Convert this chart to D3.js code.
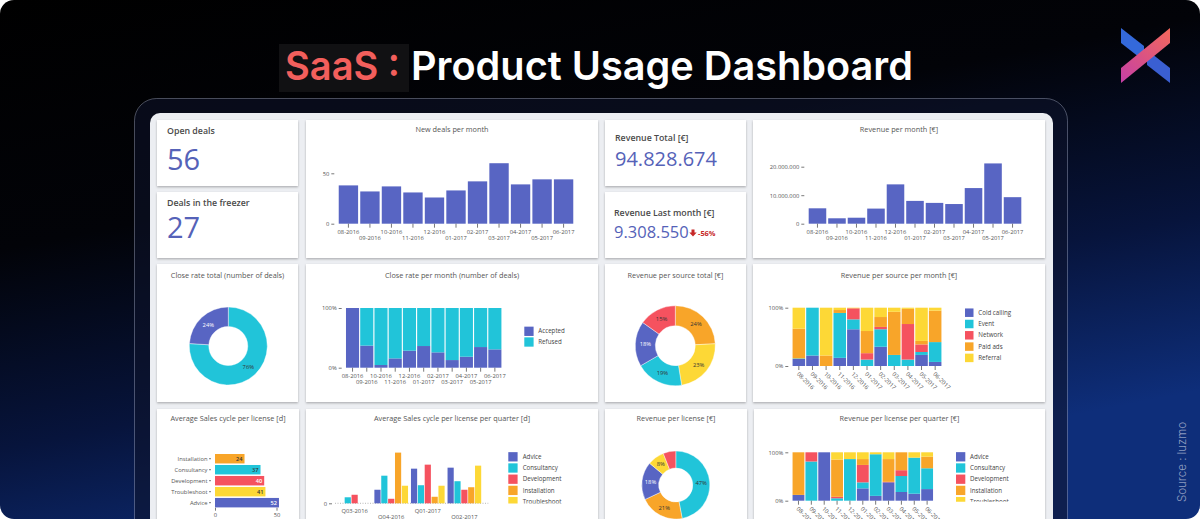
<!DOCTYPE html>
<html><head><meta charset="utf-8">
<script src="https://cdn.jsdelivr.net/npm/d3@7"></script>
<style>
html,body{margin:0;padding:0;background:#fff;overflow:hidden}
svg{display:block}
</style></head>
<body>
<svg id="chart" width="1200" height="519"></svg>
<script>
// ---------------- DATA ----------------
const months = ["08-2016","09-2016","10-2016","11-2016","12-2016","01-2017","02-2017","03-2017","04-2017","05-2017","06-2017"];
const newDeals = [38,32,37,31,26,33,42,60,39,44,44];
const revenuePerMonth = [5400000,1900000,2100000,5300000,13800000,8000000,7300000,6900000,12500000,21150000,9308550];
const kpiLabels = ["Open deals","Deals in the freezer","Revenue Total [€]","Revenue Last month [€]"];
const kpiValues = ["56","27","94.828.674","9.308.550"];
const kpiDelta = "-56%";

const closeStatus = ["Refused","Accepted"];
const closeTotalPct = [76,24];
const closeLegend = ["Accepted","Refused"];
const acceptedShare = [1,0.37,0.045,0.156,0.285,0.363,0.257,0.128,0.184,0.346,0.307];

const sources = ["Cold calling","Event","Network","Paid ads","Referral"];
const sourcePieOrder = ["Paid ads","Referral","Event","Cold calling","Network"];
const sourcePiePct = [24,23,19,18,15];
const srcColdCalling = [0.12,0.18,0,0.14,0.63,0,0.33,0,0,0.19,0.07];
const srcEvent       = [0.01,0.82,0,0.77,0.17,0.11,0.30,0.19,0.11,0.05,0.34];
const srcNetwork     = [0,0,0,0,0.19,0.11,0.04,0,0.61,0.13,0];
const srcPaidAds     = [0.51,0,0.18,0.05,0,0.38,0.17,0.74,0.26,0.06,0.54];
const srcReferral    = [0.36,0,0.82,0.04,0.01,0.40,0.16,0.07,0.02,0.57,0.05];

const licenses = ["Advice","Consultancy","Development","Installation","Troubleshoot"];
const cycleCats = ["Installation","Consultancy","Development","Troubleshoot","Advice"];
const cycleDays = [24,37,40,41,52];

const quarters = ["Q03-2016","Q04-2016","Q01-2017","Q02-2017"];
const qAdvice       = [0,27,69,71];
const qConsultancy  = [12,55,36,44];
const qDevelopment  = [17,9,77,27];
const qInstallation = [0,101,13,32];
const qTroubleshoot = [0,35,35,75];

const licPieOrder = ["Consultancy","Installation","Advice","Troubleshoot","Development"];
const licPiePct = [47,21,18,8,6];
const licAdvice       = [0.12,0,1,0,0,0.255,0.10,0.38,0.18,0.145,0.24];
const licConsultancy  = [0,0.81,0,0.05,0.86,0.124,0.86,0,0.33,0.745,0.43];
const licDevelopment  = [0,0.19,0,0.03,0,0.36,0,0.01,0.12,0,0];
const licInstallation = [0.88,0,0,0.77,0,0.121,0,0.47,0.37,0,0.24];
const licTroubleshoot = [0,0,0,0.15,0.14,0.14,0.04,0.14,0,0.11,0.09];

// ---------------- SETUP ----------------
const svg = d3.select("#chart");
const defs = svg.append("defs");
const FONT = "'Open Sans', sans-serif";
const COL = {blue:"#5865c3", cyan:"#21c4d9", red:"#f5525f", orange:"#f8a529", yellow:"#fdd836"};
const palette = [COL.blue, COL.cyan, COL.red, COL.orange, COL.yellow];
const srcColor = d3.scaleOrdinal(sources, palette);
const licColor = d3.scaleOrdinal(licenses, palette);
const closeColor = d3.scaleOrdinal(["Accepted","Refused"], [COL.blue, COL.cyan]);
const dotFmt = d3.formatLocale({decimal:",", thousands:".", grouping:[3], currency:["","€"]}).format(",");
const pctFmt = d3.format(".0%");

// background
const bgG = defs.append("linearGradient").attr("id","bgGrad").attr("x1",0).attr("y1",0).attr("x2",0.45).attr("y2",1);
[[0,"#000000"],[0.4,"#020308"],[0.72,"#07143c"],[1,"#0e2e7a"]].forEach(([o,c])=>bgG.append("stop").attr("offset",o).attr("stop-color",c));
svg.append("rect").attr("width",1200).attr("height",519).attr("rx",14).attr("fill","url(#bgGrad)");

const sh = defs.append("filter").attr("id","sh").attr("x","-5%").attr("y","-5%").attr("width","110%").attr("height","120%");
sh.append("feDropShadow").attr("dx",0).attr("dy",1.2).attr("stdDeviation",0.9).attr("flood-color","#000").attr("flood-opacity",0.28);

// frame + dashboard area
svg.append("rect").attr("x",134.5).attr("y",98.5).attr("width",933).attr("height",480).attr("rx",22)
  .attr("fill","rgba(14,20,44,0.55)").attr("stroke","rgba(200,210,235,0.35)").attr("stroke-width",1);
svg.append("rect").attr("x",150).attr("y",113).attr("width",903).attr("height",440).attr("rx",10).attr("fill","#eceef2");

// title
svg.append("rect").attr("x",279).attr("y",44).attr("width",130).attr("height",48).attr("fill","#111113");
svg.append("text").attr("x",285).attr("y",80).attr("font-family","Inter").attr("font-weight",600).attr("font-size",40)
  .attr("fill","#f25f5c").attr("textLength",115).attr("lengthAdjust","spacingAndGlyphs").text("SaaS :");
svg.append("text").attr("x",411).attr("y",80).attr("font-family","Inter").attr("font-weight",600).attr("font-size",40)
  .attr("fill","#ffffff").attr("textLength",502).attr("lengthAdjust","spacingAndGlyphs").text("Product Usage Dashboard");

// logo
const lp = defs.append("linearGradient").attr("id","logoPink").attr("gradientUnits","userSpaceOnUse")
  .attr("x1",1170).attr("y1",28).attr("x2",1121).attr("y2",83);
lp.append("stop").attr("offset",0).attr("stop-color","#f4695b");
lp.append("stop").attr("offset",1).attr("stop-color","#c43fa6");
svg.append("polygon").attr("points","1121,28 1144,46 1144,61 1121,43").attr("fill","#3469da");
svg.append("polygon").attr("points","1147,50 1170,68 1170,83 1147,65").attr("fill","#3a5fd2");
svg.append("polygon").attr("points","1170,28 1170,43 1121,83 1121,68").attr("fill","url(#logoPink)");

svg.append("text").attr("transform","translate(1186,502) rotate(-90)").attr("font-family","Inter").attr("font-weight",300)
  .attr("font-size",11.5).attr("fill","rgba(255,255,255,0.55)").text("Source : luzmo");

// ---------------- HELPERS ----------------
function card(x,y,w,h){
  const g = svg.append("g").attr("transform",`translate(${x},${y})`).attr("font-family",FONT);
  g.append("rect").attr("width",w).attr("height",h).attr("fill","#fff").attr("filter","url(#sh)");
  return g;
}
function title(g,w,t,y){
  g.append("text").attr("x",w/2).attr("y",y).attr("text-anchor","middle").attr("font-size",7.3).attr("fill","#555").text(t);
}
function styleAxis(ax){
  ax.select(".domain").remove();
  ax.attr("font-family",null).attr("font-size",null);
  ax.selectAll("line").attr("stroke","#555").attr("stroke-width",0.8);
  ax.selectAll("text").attr("font-size",5.8).attr("fill","#555").attr("font-family",FONT);
  return ax;
}
function yAxis(g,y,vals,fmt,xPos){
  return styleAxis(g.append("g").attr("transform",`translate(${xPos},0)`)
    .call(d3.axisLeft(y).tickValues(vals).tickFormat(fmt).tickSize(3).tickPadding(2)));
}
function monthAxisAlt(g,x,y0){
  const ax = styleAxis(g.append("g").attr("transform",`translate(0,${y0})`).call(d3.axisBottom(x).tickSize(4)));
  ax.selectAll("text").attr("y",(d,i)=>i%2?14.5:8).attr("dy","0.35em");
  return ax;
}
function monthAxisRot(g,x,y0){
  const ax = styleAxis(g.append("g").attr("transform",`translate(0,${y0})`).call(d3.axisBottom(x).tickSize(4)));
  ax.selectAll("text").attr("x",0).attr("y",0).attr("dy","0.35em").attr("text-anchor","start")
    .attr("transform","translate(-1,7) rotate(45)");
  return ax;
}
let clipId = 0;
function legend(g,names,color,sx,tx,cy0,step,size,clipH){
  const lg = g.append("g");
  if(clipH){
    const id = "lc"+(clipId++);
    defs.append("clipPath").attr("id",id).append("rect").attr("x",0).attr("y",0).attr("width",400).attr("height",clipH);
    lg.attr("clip-path",`url(#${id})`);
  }
  const it = lg.selectAll("g").data(names).join("g").attr("transform",(d,i)=>`translate(0,${cy0+i*step})`);
  it.append("rect").attr("x",sx).attr("y",-size/2).attr("width",size).attr("height",size).attr("fill",d=>color(d));
  it.append("text").attr("x",tx).attr("dy","0.35em").attr("font-size",6.2).attr("fill","#444").text(d=>d);
}
function donut(g,cx,cy,r0,r1,names,vals,color){
  const arcs = d3.pie().sort(null).value(d=>d)(vals);
  const arc = d3.arc().innerRadius(r0).outerRadius(r1);
  const lab = d3.arc().innerRadius((r0+r1)/2).outerRadius((r0+r1)/2);
  const gg = g.append("g").attr("transform",`translate(${cx},${cy})`);
  gg.selectAll("path").data(arcs).join("path").attr("d",arc).attr("fill",(d,i)=>color(names[i]))
    .attr("stroke","#fff").attr("stroke-width",0.4);
  gg.selectAll("text").data(arcs.filter(d=>d.data>=7)).join("text")
    .attr("transform",d=>`translate(${lab.centroid(d)})`).attr("text-anchor","middle").attr("dy","0.35em")
    .attr("font-size",5.8).attr("fill",d=>color(names[d.index])===COL.blue?"#fff":"#333").text(d=>d.data+"%");
}
function stackedPct(g,x,y,keys,seriesArrs,color){
  const rows = months.map((m,i)=>{const o={m}; keys.forEach((k,j)=>o[k]=seriesArrs[j][i]); return o;});
  const st = d3.stack().keys(keys).offset(d3.stackOffsetExpand)(rows);
  g.append("g").selectAll("g").data(st).join("g").attr("fill",d=>color(d.key))
    .selectAll("rect").data(d=>d).join("rect")
    .attr("x",d=>x(d.data.m)).attr("width",x.bandwidth())
    .attr("y",d=>y(d[1])).attr("height",d=>Math.max(0,y(d[0])-y(d[1])));
}

// ---------------- ROW 1 ----------------
function kpiCard(x,y,label,value,lx,ly,vy,vs){
  const g = card(x,y,141,66);
  g.append("text").attr("x",lx).attr("y",ly).attr("font-size",8.8).attr("font-weight",600).attr("fill","#4a4a4a").text(label);
  g.append("text").attr("x",lx).attr("y",vy).attr("font-size",vs).attr("fill","#5562b8").text(value);
  return g;
}
kpiCard(157,120,kpiLabels[0],kpiValues[0],10,14,50,29);
kpiCard(157,192,kpiLabels[1],kpiValues[1],10,13.7,46.3,29);
kpiCard(605,120,kpiLabels[2],kpiValues[2],10,21,46,20);
{
  const g = kpiCard(605,192,kpiLabels[3],kpiValues[3],9,24,46.3,16.5);
  g.append("path").attr("d","M86.5,37.5h3v3h2.2l-3.7,4l-3.7,-4h2.2z").attr("fill","#c62828");
  g.append("text").attr("x",93).attr("y",44).attr("font-size",7.4).attr("font-weight",700).attr("fill","#c62828").text(kpiDelta);
}

// New deals per month
{
  const g = card(306,120,292,138);
  title(g,292,"New deals per month",12);
  const x = d3.scaleBand().domain(months).range([32.3,267.7]).paddingInner(0.1).paddingOuter(0.02);
  const y = d3.scaleLinear().domain([0,50]).range([103.7,53.3]);
  g.selectAll("rect.bar").data(newDeals).join("rect").attr("class","bar")
    .attr("x",(d,i)=>x(months[i])).attr("width",x.bandwidth()).attr("y",d=>y(d)).attr("height",d=>y(0)-y(d)).attr("fill",COL.blue);
  yAxis(g,y,[0,50],d=>d,28.3);
  monthAxisAlt(g,x,103.7);
}
// Revenue per month
{
  const g = card(753,120,292,138);
  title(g,292,"Revenue per month [€]",12);
  const x = d3.scaleBand().domain(months).range([55.3,268.7]).paddingInner(0.1).paddingOuter(0.02);
  const y = d3.scaleLinear().domain([0,20000000]).range([103.7,46.7]);
  g.selectAll("rect.bar").data(revenuePerMonth).join("rect").attr("class","bar")
    .attr("x",(d,i)=>x(months[i])).attr("width",x.bandwidth()).attr("y",d=>y(d)).attr("height",d=>y(0)-y(d)).attr("fill",COL.blue);
  yAxis(g,y,[0,10000000,20000000],dotFmt,51.3);
  monthAxisAlt(g,x,103.7);
}

// ---------------- ROW 2 ----------------
{
  const g = card(157,264,141,138);
  title(g,141,"Close rate total (number of deals)",13.7);
  donut(g,71.3,82,19.5,39,closeStatus,closeTotalPct,closeColor);
}
{
  const g = card(306,264,292,138);
  title(g,292,"Close rate per month (number of deals)",13.7);
  const x = d3.scaleBand().domain(months).range([39.7,195.7]).paddingInner(0.08).paddingOuter(0.02);
  const y = d3.scaleLinear().domain([0,1]).range([103.7,44]);
  stackedPct(g,x,y,["Accepted","Refused"],[acceptedShare,acceptedShare.map(v=>1-v)],closeColor);
  yAxis(g,y,[0,1],pctFmt,35.7);
  monthAxisAlt(g,x,103.7);
  legend(g,closeLegend,closeColor,218.3,232.3,67.3,10.7,9.3);
}
{
  const g = card(605,264,141,138);
  title(g,141,"Revenue per source total [€]",13.7);
  donut(g,70.3,81.7,20,40,sourcePieOrder,sourcePiePct,srcColor);
}
{
  const g = card(753,264,292,138);
  title(g,292,"Revenue per source per month [€]",13.7);
  const x = d3.scaleBand().domain(months).range([39.3,188.7]).paddingInner(0.08).paddingOuter(0.02);
  const y = d3.scaleLinear().domain([0,1]).range([102,43.7]);
  stackedPct(g,x,y,sources,[srcColdCalling,srcEvent,srcNetwork,srcPaidAds,srcReferral],srcColor);
  yAxis(g,y,[0,1],pctFmt,35.3);
  monthAxisRot(g,x,102);
  legend(g,sources,srcColor,212,225.3,48.7,11.3,8.5);
}

// ---------------- ROW 3 ----------------
{
  const g = card(157,409,142,138);
  title(g,142,"Average Sales cycle per license [d]",12.3);
  const y = d3.scaleBand().domain(cycleCats).range([45,98.4]).paddingInner(0.14);
  const x = d3.scaleLinear().domain([0,50]).range([58,119.5]);
  const labDark = {Installation:"#333",Consultancy:"#333",Development:"#fff",Troubleshoot:"#333",Advice:"#fff"};
  g.selectAll("rect.hb").data(cycleDays).join("rect").attr("class","hb")
    .attr("x",x(0)).attr("y",(d,i)=>y(cycleCats[i])).attr("height",y.bandwidth())
    .attr("width",d=>x(d)-x(0)).attr("fill",(d,i)=>licColor(cycleCats[i]));
  g.selectAll("text.hv").data(cycleDays).join("text").attr("class","hv")
    .attr("x",d=>x(d)-2).attr("y",(d,i)=>y(cycleCats[i])+y.bandwidth()/2).attr("dy","0.35em").attr("text-anchor","end")
    .attr("font-size",5.6).attr("font-weight",600).attr("fill",(d,i)=>labDark[cycleCats[i]]).text(d=>d);
  styleAxis(g.append("g").attr("transform","translate(54,0)").call(d3.axisLeft(y).tickSize(2).tickPadding(1.5)));
  styleAxis(g.append("g").attr("transform","translate(0,98.7)").call(d3.axisBottom(x).tickValues([0,50]).tickSize(3).tickPadding(2.5)));
}
{
  const g = card(306,409,292,138);
  title(g,292,"Average Sales cycle per license per quarter [d]",12.3);
  const x0 = d3.scaleBand().domain(quarters).range([31.8,175.2]).paddingInner(0.08);
  const x1 = d3.scaleBand().domain(licenses).range([0,x0.bandwidth()]).paddingInner(0.1);
  const y = d3.scaleLinear().domain([0,101]).range([94.3,43.6]);
  const arrs = [qAdvice,qConsultancy,qDevelopment,qInstallation,qTroubleshoot];
  g.append("line").attr("x1",29).attr("x2",182.3).attr("y1",y(0)).attr("y2",y(0)).attr("stroke","#999").attr("stroke-width",0.7).attr("stroke-dasharray","1,1.5");
  const grp = g.selectAll("g.q").data(quarters).join("g").attr("class","q").attr("transform",q=>`translate(${x0(q)},0)`);
  grp.selectAll("rect").data((q,qi)=>licenses.map((l,li)=>({l,v:arrs[li][qi]}))).join("rect")
    .attr("x",d=>x1(d.l)).attr("width",x1.bandwidth()).attr("y",d=>y(d.v)).attr("height",d=>y(0)-y(d.v)).attr("fill",d=>licColor(d.l));
  yAxis(g,y,[0],d=>d,26);
  const ax = styleAxis(g.append("g").attr("transform",`translate(0,${y(0)})`).call(d3.axisBottom(x0).tickSize(0)));
  ax.selectAll("text").attr("y",(d,i)=>i%2?13.3:7.7).attr("dy","0.35em");
  legend(g,licenses,licColor,202.3,216.7,47.8,11.2,9.3,94.6);
}
{
  const g = card(605,409,142,138);
  title(g,142,"Revenue per license [€]",12.3);
  donut(g,70.8,76,17,34,licPieOrder,licPiePct,licColor);
}
{
  const g = card(754,409,291,138);
  title(g,291,"Revenue per license per quarter [€]",12.3);
  const x = d3.scaleBand().domain(months).range([38.3,179.3]).paddingInner(0.08).paddingOuter(0.02);
  const y = d3.scaleLinear().domain([0,1]).range([91.7,43.3]);
  stackedPct(g,x,y,licenses,[licAdvice,licConsultancy,licDevelopment,licInstallation,licTroubleshoot],licColor);
  yAxis(g,y,[0,1],pctFmt,34.3);
  monthAxisRot(g,x,91.7);
  legend(g,licenses,licColor,202,216,47.8,11.2,9.3,92.7);
}
</script>
</body></html>
